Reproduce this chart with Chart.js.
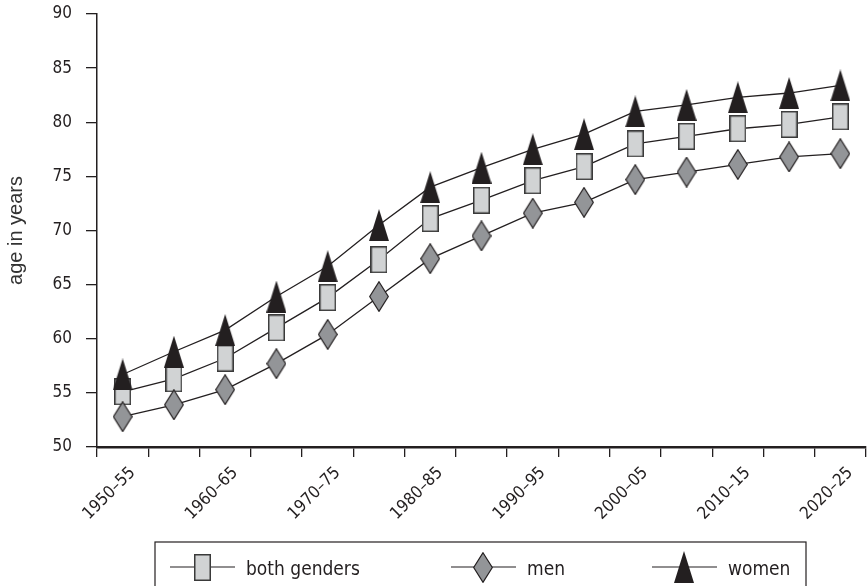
<!DOCTYPE html>
<html>
<head>
<meta charset="utf-8">
<script src="https://cdn.jsdelivr.net/npm/chart.js@4.4.1/dist/chart.umd.min.js"></script>
<style>
  html, body { margin: 0; padding: 0; background: #ffffff; }
  #wrap { width: 867px; height: 586px; }
</style>
</head>
<body>
<div id="wrap"><canvas id="lifeChart" width="867" height="586"></canvas></div>
<script>
// Data
const periods = [
  "1950–55", "1955–60", "1960–65", "1965–70", "1970–75",
  "1975–80", "1980–85", "1985–90", "1990–95", "1995–2000",
  "2000–05", "2005–10", "2010–15", "2015–20", "2020–25"
];
const xTickLabels = ["1950–55", "1960–65", "1970–75", "1980–85", "1990–95", "2000–05", "2010–15", "2020–25"];
const yTickValues = [50, 55, 60, 65, 70, 75, 80, 85, 90];

const bothGenders = [55.1, 56.3, 58.2, 61.0, 63.8, 67.3, 71.1, 72.8, 74.6, 75.9, 78.0, 78.7, 79.4, 79.8, 80.5];
const men         = [52.8, 53.9, 55.3, 57.7, 60.4, 63.9, 67.4, 69.5, 71.6, 72.6, 74.7, 75.4, 76.1, 76.8, 77.1];
const women       = [56.7, 58.8, 60.8, 63.9, 66.7, 70.5, 74.0, 75.8, 77.5, 78.9, 81.0, 81.6, 82.3, 82.7, 83.4];

const ink = "#231f20";
const narrow = "'Liberation Sans Narrow', 'DejaVu Sans Condensed', sans-serif";

// Marker images (tall shapes, like the printed chart)
function makeMarker(w, h, draw) {
  const c = document.createElement("canvas");
  c.width = w;
  c.height = h;
  draw(c.getContext("2d"), w, h);
  return c;
}

const squareMark = makeMarker(17, 27, (g, w, h) => {
  g.fillStyle = "#d1d3d4";
  g.strokeStyle = "#3a3a3a";
  g.lineWidth = 1.5;
  g.fillRect(0.75, 0.75, w - 1.5, h - 1.5);
  g.strokeRect(0.75, 0.75, w - 1.5, h - 1.5);
});

const diamondMark = makeMarker(20, 31, (g, w, h) => {
  g.beginPath();
  g.moveTo(w / 2, 0.7);
  g.lineTo(w - 0.7, h / 2);
  g.lineTo(w / 2, h - 0.7);
  g.lineTo(0.7, h / 2);
  g.closePath();
  g.fillStyle = "#939598";
  g.fill();
  g.strokeStyle = ink;
  g.lineWidth = 1.2;
  g.stroke();
});

const triangleMark = makeMarker(20, 32, (g, w, h) => {
  g.beginPath();
  g.moveTo(w / 2, 0);
  g.lineTo(w, h);
  g.lineTo(0, h);
  g.closePath();
  g.fillStyle = ink;
  g.fill();
});

// Boxed legend under the chart, line through each marker
const boxedLegend = {
  id: "boxedLegend",
  afterDraw(chart) {
    const ctx = chart.ctx;
    const legendX = [170, 451, 652];
    const y = 567;
    ctx.save();
    ctx.strokeStyle = ink;
    ctx.lineWidth = 1.2;
    ctx.strokeRect(155, 542, 651, 60);
    chart.data.datasets.forEach((ds, i) => {
      const x = legendX[i];
      ctx.beginPath();
      ctx.moveTo(x, y);
      ctx.lineTo(x + 65, y);
      ctx.lineWidth = 1.2;
      ctx.strokeStyle = ink;
      ctx.stroke();
      const img = ds.pointStyle;
      ctx.drawImage(img, Math.round(x + 32 - img.width / 2), Math.round(y - img.height / 2));
      ctx.fillStyle = ink;
      ctx.font = "19px " + narrow;
      ctx.textBaseline = "alphabetic";
      ctx.fillText(ds.label, x + 76, 575);
    });
    ctx.restore();
  }
};

function lineSet(label, data, mark, order) {
  return {
    label: label,
    data: data,
    borderColor: ink,
    borderWidth: 1.3,
    tension: 0,
    fill: false,
    pointStyle: mark,
    pointRadius: 10,
    pointHoverRadius: 10,
    clip: false,
    order: order
  };
}

const ctx = document.getElementById("lifeChart").getContext("2d");

const lifeChart = new Chart(ctx, {
  type: "line",
  data: {
    labels: periods,
    datasets: [
      lineSet("both genders", bothGenders, squareMark, 2),
      lineSet("men", men, diamondMark, 1),
      lineSet("women", women, triangleMark, 0)
    ]
  },
  options: {
    responsive: false,
    animation: false,
    devicePixelRatio: 1,
    layout: { autoPadding: false, padding: { top: 14, right: 1, left: 0, bottom: 0 } },
    plugins: {
      legend: { display: false },
      tooltip: { enabled: false }
    },
    scales: {
      x: {
        offset: true,
        grid: {
          offset: true,
          drawOnChartArea: false,
          drawTicks: true,
          tickLength: 10,
          color: ink,
          lineWidth: 1.3
        },
        border: { display: true, color: ink, width: 2.5 },
        ticks: {
          autoSkip: false,
          maxRotation: 45,
          minRotation: 45,
          padding: 6,
          labelOffset: 10,
          color: ink,
          font: { family: narrow, size: 17 },
          callback: function (value, index) {
            const lbl = periods[index];
            return xTickLabels.includes(lbl) ? lbl : "";
          }
        },
        afterFit: (scale) => {
          scale.height = 139;
          scale.paddingLeft = 0;
          scale.paddingRight = 0;
        }
      },
      y: {
        min: 50,
        max: 90,
        afterBuildTicks: (scale) => {
          scale.ticks = yTickValues.map(v => ({ value: v }));
        },
        grid: {
          drawOnChartArea: false,
          drawTicks: true,
          tickLength: 11,
          color: ink,
          lineWidth: 1.3
        },
        border: { display: true, color: ink, width: 1.5 },
        ticks: {
          padding: 14,
          color: ink,
          font: { family: narrow, size: 17 }
        },
        title: {
          display: true,
          text: "age in years",
          color: "#333333",
          font: { family: "'Liberation Sans', Arial, sans-serif", size: 20 },
          padding: { top: 4, bottom: 0 }
        },
        afterFit: (scale) => {
          scale.width = 97;
          scale.paddingTop = 0;
          scale.paddingBottom = 0;
        }
      }
    }
  },
  plugins: [boxedLegend]
});
</script>
</body>
</html>
